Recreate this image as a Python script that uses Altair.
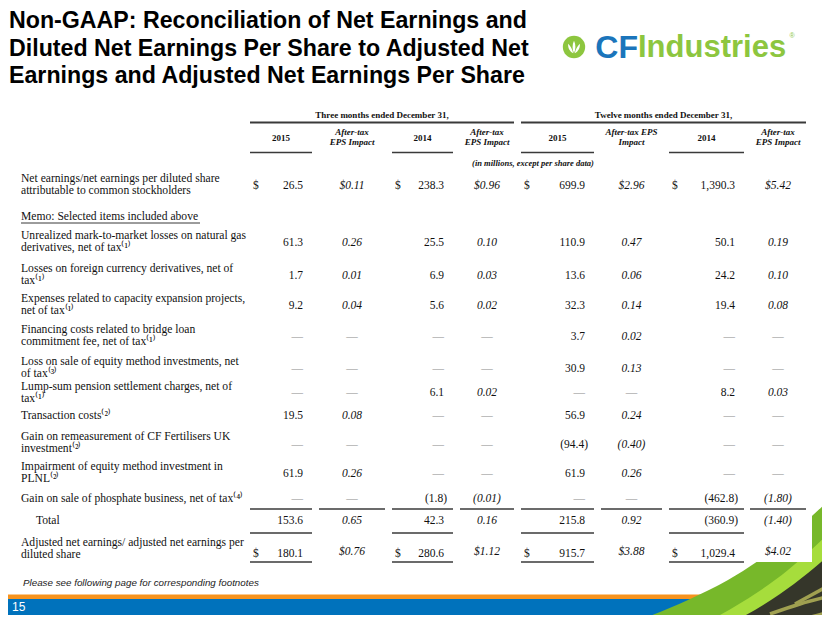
import altair as alt
import pandas as pd

# ---------------- data ----------------
title_lines = [
    "Non-GAAP: Reconciliation of Net Earnings and",
    "Diluted Net Earnings Per Share to Adjusted Net",
    "Earnings and Adjusted Net Earnings Per Share",
]
period_titles = ["Three months ended December 31,", "Twelve months ended December 31,"]
col_years = ["2015", "2014", "2015", "2014"]
eps_headers = [["After-tax", "EPS Impact"], ["After-tax", "EPS Impact"],
               ["After-tax EPS", "Impact"], ["After-tax", "EPS Impact"]]
units_note = "(in millions, except per share data)"
memo_text = "Memo:  Selected items included above"
footnote = "Please see following page for corresponding footnotes"
page_no = "15"

row_labels = [
    ["Net earnings/net earnings per diluted share", "attributable to common stockholders"],
    ["Unrealized mark-to-market losses on natural gas", "derivatives, net of tax⁽¹⁾"],
    ["Losses on foreign currency derivatives, net of", "tax⁽¹⁾"],
    ["Expenses related to capacity expansion projects,", "net of tax⁽¹⁾"],
    ["Financing costs related to bridge loan", "commitment fee, net of tax⁽¹⁾"],
    ["Loss on sale of equity method investments, net", "of tax⁽³⁾"],
    ["Lump-sum pension settlement charges, net of", "tax⁽¹⁾"],
    ["Transaction costs⁽²⁾"],
    ["Gain on remeasurement of CF Fertilisers UK", "investment⁽²⁾"],
    ["Impairment of equity method investment in", "PLNL⁽²⁾"],
    ["Gain on sale of phosphate business, net of tax⁽⁴⁾"],
    ["Total"],
    ["Adjusted net earnings/ adjusted net earnings per", "diluted share"],
]
q4_2015_amt = [26.5, 61.3, 1.7, 9.2, None, None, None, 19.5, None, 61.9, None, 153.6, 180.1]
q4_2015_eps = [0.11, 0.26, 0.01, 0.04, None, None, None, 0.08, None, 0.26, None, 0.65, 0.76]
q4_2014_amt = [238.3, 25.5, 6.9, 5.6, None, None, 6.1, None, None, None, -1.8, 42.3, 280.6]
q4_2014_eps = [0.96, 0.10, 0.03, 0.02, None, None, 0.02, None, None, None, -0.01, 0.16, 1.12]
fy_2015_amt = [699.9, 110.9, 13.6, 32.3, 3.7, 30.9, None, 56.9, -94.4, 61.9, None, 215.8, 915.7]
fy_2015_eps = [2.96, 0.47, 0.06, 0.14, 0.02, 0.13, None, 0.24, -0.40, 0.26, None, 0.92, 3.88]
fy_2014_amt = [1390.3, 50.1, 24.2, 19.4, None, None, 8.2, None, None, None, -462.8, -360.9, 1029.4]
fy_2014_eps = [5.42, 0.19, 0.10, 0.08, None, None, 0.03, None, None, None, -1.80, -1.40, 4.02]
dollar_rows = [0, 12]
total_row = 11

# ---------------- layout (reference pixel space) ----------------
W, H = 814, 607
X0, Y0 = 8, 8
amt_cols = [(250, 312), (392, 453), (521, 594), (669, 744)]
eps_cols = [(319, 385), (460, 514), (601, 662), (750, 806)]
period_spans = [(250, 514), (521, 806)]
row_y = [186, 243, 276, 306, 337, 369, 393, 416, 445, 474, 499, 521, 554]
label_y = [179, 236, 269, 299, 330, 362, 387, 416, 437, 467, 499, 521, 543]
LINE_GAP = 11.5
LABEL_X = 21

SERIF = "Liberation Serif"
SANS = "Liberation Sans"
INK = "#111111"
RULE = "#3a3a3a"
BLUE = "#0072bc"
ORANGE = "#f7931e"
GREEN = "#8dc63f"
LOGO_BLUE = "#1b75bb"

xs = alt.Scale(domain=[X0, X0 + W], nice=False, zero=False)
ys = alt.Scale(domain=[Y0, Y0 + H], nice=False, zero=False, reverse=True)
X = lambda f="x": alt.X(f"{f}:Q", scale=xs, axis=None)
Y = lambda f="y": alt.Y(f"{f}:Q", scale=ys, axis=None)


def txt(rows, **kw):
    df = pd.DataFrame(rows, columns=["x", "y", "t"])
    kw.setdefault("baseline", "middle")
    kw.setdefault("color", INK)
    return alt.Chart(df).mark_text(**kw).encode(x=X(), y=Y(), text="t:N")


def hrules(segs, y, width=1.4, color=RULE):
    df = pd.DataFrame([(a, b, y) for a, b in segs], columns=["x", "x2", "y"])
    return alt.Chart(df).mark_rule(color=color, strokeWidth=width).encode(
        x=X(), x2="x2:Q", y=Y())


def rect(x, x2, y, y2, color):
    df = pd.DataFrame([(x, x2, y, y2)], columns=["x", "x2", "y", "y2"])
    return alt.Chart(df).mark_rect(color=color).encode(x=X(), x2="x2:Q", y=Y(), y2="y2:Q")


def fmt_amt(v):
    if v is None:
        return "—"
    return f"({abs(v):,.1f})" if v < 0 else f"{v:,.1f}"


def fmt_eps(v, dollar):
    if v is None:
        return "—"
    s = f"{abs(v):.2f}"
    if dollar:
        s = "$" + s
    return f"({s})" if v < 0 else s


layers = []

# bottom bars
layers.append(rect(0, 830, 594.5, 599, ORANGE))
layers.append(rect(0, 830, 599, 630, BLUE))

# swoosh (decoration)
def area(points, color):
    df = pd.DataFrame(points, columns=["x", "y"])
    df["y2"] = 640
    return alt.Chart(df).mark_area(color=color, interpolate="monotone", clip=True).encode(
        x=X(), y=Y(), y2="y2:Q")

layers.append(area([(615, 630), (645, 618), (688, 600), (728, 580), (758, 561), (788, 538), (813, 515), (840, 490)], "#77b82a"))
layers.append(area([(690, 630), (720, 615), (758, 592), (788, 570), (811, 550), (840, 522)], "#a6dd3c"))
layers.append(area([(716, 630), (746, 615), (780, 594), (808, 573), (840, 545)], "#35362a"))
stripes = pd.DataFrame([
    (1, 770, 614), (1, 800, 604), (1, 830, 596),
    (2, 795, 604), (2, 830, 585),
    (3, 745, 630), (3, 790, 622), (3, 830, 612),
], columns=["g", "x", "y"])
layers.append(alt.Chart(stripes).mark_line(color="#a0a050", strokeWidth=3.5, interpolate="monotone", clip=True).encode(
    x=X(), y=Y(), detail="g:N"))
layers.append(rect(0, 812, 0, 562, "white"))

# title
layers.append(txt([(9, 21 + i * 27.5, t) for i, t in enumerate(title_lines)],
                  font=SANS, fontSize=23.2, fontWeight="bold", align="left", color="#000000"))

# logo
leaf = ("M0,0.95 C-0.28,0.4 -0.3,-0.35 0,-0.95 C0.3,-0.35 0.28,0.4 0,0.95 Z "
        "M-0.12,0.95 C-0.65,0.7 -0.95,0.15 -0.9,-0.5 C-0.5,-0.15 -0.25,0.4 -0.12,0.95 Z "
        "M0.12,0.95 C0.65,0.7 0.95,0.15 0.9,-0.5 C0.5,-0.15 0.25,0.4 0.12,0.95 Z")
logo_df = pd.DataFrame([(574, 47)], columns=["x", "y"])
layers.append(alt.Chart(logo_df).mark_point(shape="circle", filled=True, size=500, color=GREEN, opacity=1).encode(x=X(), y=Y()))
layers.append(alt.Chart(logo_df).mark_point(shape=leaf, filled=True, size=170, color="white", opacity=1).encode(x=X(), y=Y()))
layers.append(txt([(638, 48, "CF")], font=SANS, fontSize=32, fontWeight="bold", align="right", color=LOGO_BLUE))
layers.append(txt([(638, 48, "Industries")], font=SANS, fontSize=31, fontWeight="bold", align="left", color=GREEN))
layers.append(txt([(792, 36, "®")], font=SANS, fontSize=7, align="center", color=GREEN))

# header
layers.append(txt([((a + b) / 2, 115, t) for (a, b), t in zip(period_spans, period_titles)],
                  font=SERIF, fontSize=9, fontWeight="bold", align="center"))
layers.append(hrules(period_spans, 122.5, 2))
layers.append(txt([((a + b) / 2, 138, t) for (a, b), t in zip(amt_cols, col_years)],
                  font=SERIF, fontSize=9, fontWeight="bold", align="center"))
eh = []
for (a, b), lines in zip(eps_cols, eps_headers):
    eh.append(((a + b) / 2, 132, lines[0]))
    eh.append(((a + b) / 2, 142, lines[1]))
layers.append(txt(eh, font=SERIF, fontSize=9, fontWeight="bold", fontStyle="italic", align="center"))
layers.append(hrules(amt_cols, 152.5, 1.5))
layers.append(txt([(533, 163, units_note)], font=SERIF, fontSize=8.5, fontWeight="bold",
                  fontStyle="italic", align="center"))

# row labels
lab = []
for r, lines in enumerate(row_labels):
    x = 36 if r == total_row else LABEL_X
    for k, line in enumerate(lines):
        lab.append((x, label_y[r] + k * LINE_GAP, line))
lab.append((LABEL_X, 217, memo_text))
layers.append(txt(lab, font=SERIF, fontSize=11.6, align="left"))
layers.append(hrules([(LABEL_X, 200)], 223, 0.9, "#222222"))

# values
amts = [q4_2015_amt, q4_2014_amt, fy_2015_amt, fy_2014_amt]
epss = [q4_2015_eps, q4_2014_eps, fy_2015_eps, fy_2014_eps]
num_rows, dash_rows, eps_rows, eps_dash, dollars = [], [], [], [], []
for (a, b), vals in zip(amt_cols, amts):
    for r, v in enumerate(vals):
        if v is None:
            dash_rows.append((b - 9, row_y[r], fmt_amt(v)))
        else:
            num_rows.append((b - 9 + (3 if v < 0 else 0), row_y[r], fmt_amt(v)))
    for r in dollar_rows:
        dollars.append((a + 3, row_y[r], "$"))
for (a, b), vals in zip(eps_cols, epss):
    for r, v in enumerate(vals):
        t = fmt_eps(v, r in dollar_rows)
        (eps_dash if v is None else eps_rows).append(((a + b) / 2, row_y[r] - (2 if r == 12 else 0), t))

layers.append(txt(num_rows, font=SERIF, fontSize=11.5, align="right"))
layers.append(txt(dash_rows, font=SERIF, fontSize=11.5, align="right", color="#8a8a8a"))
layers.append(txt(dollars, font=SERIF, fontSize=11.5, align="left"))
layers.append(txt(eps_rows, font=SERIF, fontSize=11.5, fontStyle="italic", align="center"))
layers.append(txt(eps_dash, font=SERIF, fontSize=11.5, align="center", color="#8a8a8a"))

# table rules
layers.append(hrules(amt_cols + eps_cols, 509, 1.5))
layers.append(hrules(amt_cols, 533, 1.5))
layers.append(hrules(amt_cols, 562, 1.5))

# footer
layers.append(txt([(23, 583, footnote)], font=SANS, fontSize=9.8, fontStyle="italic", align="left", color="#222222"))
layers.append(txt([(12, 607, page_no)], font=SANS, fontSize=12, align="left", color="white"))

chart = alt.layer(*layers).properties(
    width=W, height=H, padding=0, autosize="none"
).configure_view(stroke=None)

chart.save("out.html", embed_options={"renderer": "svg", "actions": False})
